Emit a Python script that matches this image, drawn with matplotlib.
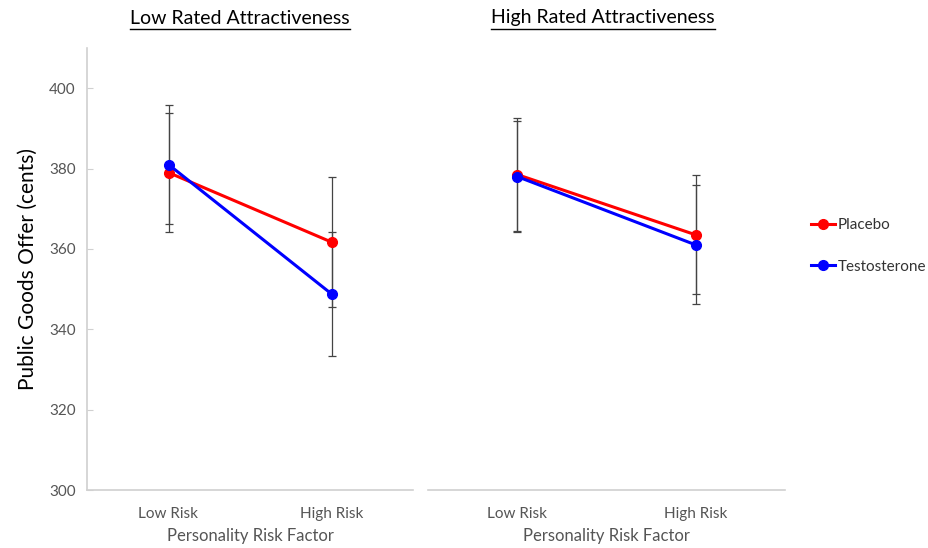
import matplotlib.pyplot as plt
from matplotlib.lines import Line2D
import numpy as np

# Data
categories = ['Low Risk', 'High Risk']
panels = ['Low Rated Attractiveness', 'High Rated Attractiveness']
series = ['Placebo', 'Testosterone']
colors = {'Placebo': '#FF0000', 'Testosterone': '#0000FF'}

placebo_low_attr = [379.0, 361.7]
placebo_low_attr_err = [14.8, 16.2]
testo_low_attr = [381.0, 348.8]
testo_low_attr_err = [14.8, 15.5]

placebo_high_attr = [378.5, 363.5]
placebo_high_attr_err = [14.0, 14.8]
testo_high_attr = [378.0, 361.0]
testo_high_attr_err = [13.9, 14.8]

yticks = [300, 320, 340, 360, 380, 400]

plt.rcParams['font.family'] = ['Lato', 'DejaVu Sans']

W, H = 929, 548
fig = plt.figure(figsize=(W / 100, H / 100), dpi=100)
ax_left = fig.add_axes([87 / W, 1 - 490 / H, 326 / W, 442 / H])
ax_right = fig.add_axes([428 / W, 1 - 490 / H, 357 / W, 442 / H])

panel_data = [
    (ax_left, [(placebo_low_attr, placebo_low_attr_err), (testo_low_attr, testo_low_attr_err)]),
    (ax_right, [(placebo_high_attr, placebo_high_attr_err), (testo_high_attr, testo_high_attr_err)]),
]

x = np.arange(len(categories))
for ax, data in panel_data:
    for name, (vals, errs) in zip(series, data):
        ax.errorbar(x, vals, yerr=errs, color=colors[name], ecolor='#444444',
                    elinewidth=0.9, capsize=3, capthick=0.9, linewidth=2.2,
                    marker='o', markersize=7, zorder=3)
    ax.set_xlim(-0.5, 1.5)
    ax.set_ylim(300, 410)
    ax.set_xticks(x)
    ax.set_xticklabels(categories, fontsize=11, color='#555555')
    ax.set_xlabel('Personality Risk Factor', fontsize=12, color='#555555', labelpad=5)
    ax.tick_params(axis='x', length=0, pad=12)
    for side in ['top', 'right']:
        ax.spines[side].set_visible(False)
    ax.spines['bottom'].set_color('#D0D0D0')
    ax.spines['bottom'].set_linewidth(1.2)

# panel titles, underlined like the original
titles = []
for cx, title in zip([240, 603], panels):
    titles.append(fig.text(cx / W, 1 - 18 / H, title, ha='center', va='center',
                           fontsize=14, color='black'))
fig.canvas.draw()
for t in titles:
    bb = t.get_window_extent()
    y = 1 - 29 / H
    fig.add_artist(Line2D([bb.x0 / W, bb.x1 / W], [y, y], color='black', linewidth=1.0))

ax_left.set_yticks(yticks)
ax_left.tick_params(axis='y', length=4, direction='in', color='#D0D0D0', labelsize=11,
                    labelcolor='#555555', pad=8)
ax_left.spines['left'].set_color('#D0D0D0')
ax_left.spines['left'].set_linewidth(1.2)
ax_left.set_ylabel('Public Goods Offer (cents)', fontsize=15, color='black', labelpad=8)

ax_right.spines['left'].set_visible(False)
ax_right.set_yticks([])

handles = [Line2D([], [], color=colors[s], linewidth=2.2, marker='o', markersize=7) for s in series]
fig.legend(handles, series, loc='center left', bbox_to_anchor=(811 / W, 1 - 246 / H),
           frameon=False, fontsize=11, handlelength=1.55, labelspacing=1.8, handletextpad=0.2,
           labelcolor='#333333', borderpad=0, borderaxespad=0)

fig.savefig('out.png', dpi=100)
